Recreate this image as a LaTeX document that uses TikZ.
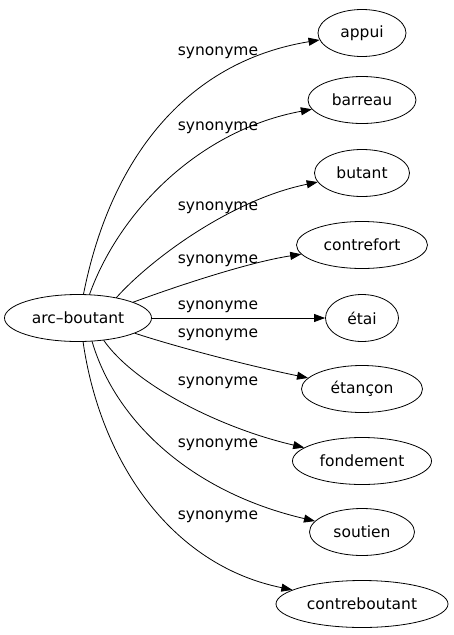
\documentclass[tikz,border=0pt]{standalone}
\usepackage{fontspec}
\setmainfont{DejaVu Sans}
\usetikzlibrary{shapes.geometric,arrows.meta}
\tikzset{
	mot/.style={draw,ellipse,inner sep=0pt,minimum height=47pt},
	syn/.style={inner sep=0pt},
}
\begin{document}
\begin{tikzpicture}[x=1pt,y=-1pt,font=\fontsize{15.5}{18}\selectfont,line join=round,line cap=round,>={Triangle[length=11pt,width=8pt]},line width=0.8pt]
	\useasboundingbox (0,0) rectangle (453,635);
	\node[mot,minimum width=147pt] (ab) at (78,318) {arc–boutant};
	\node[mot,minimum width=88pt] (appui) at (362,33) {appui};
	\node[mot,minimum width=108pt] (barreau) at (362,100) {barreau};
	\node[mot,minimum width=95pt] (butant) at (362,173) {butant};
	\node[mot,minimum width=131pt] (contrefort) at (362,245) {contrefort};
	\node[mot,minimum width=73pt] (etai) at (362,318) {étai};
	\node[mot,minimum width=121pt] (etancon) at (362,389) {étançon};
	\node[mot,minimum width=139pt] (fondement) at (362,461) {fondement};
	\node[mot,minimum width=105pt] (soutien) at (362,532) {soutien};
	\node[mot,minimum width=172pt] (contreboutant) at (362,604) {contreboutant};
	\foreach \y [count=\i] in {53,128,208,261,307,335,383,445,517}
	\node[syn] (s\i) at (218,\y) {synonyme};
	\draw[->] (ab.77) .. controls (110,160) and (185,62) .. (appui);
	\draw[->] (ab.64) .. controls (120,210) and (200,130) .. (barreau);
	\draw[->] (ab.28) .. controls (150,260) and (230,200) .. (butant);
	\draw[->] (ab.16) .. controls (180,285) and (250,262) .. (contrefort);
	\draw[->] (ab) -- (etai);
	\draw[->] (ab.-15) .. controls (180,348) and (250,366) .. (etancon);
	\draw[->] (ab.-41) .. controls (135,385) and (220,428) .. (fondement);
	\draw[->] (ab.-59) .. controls (115,420) and (190,492) .. (soutien);
	\draw[->] (ab.-78) .. controls (100,460) and (170,565) .. (contreboutant);
\end{tikzpicture}
\end{document}
